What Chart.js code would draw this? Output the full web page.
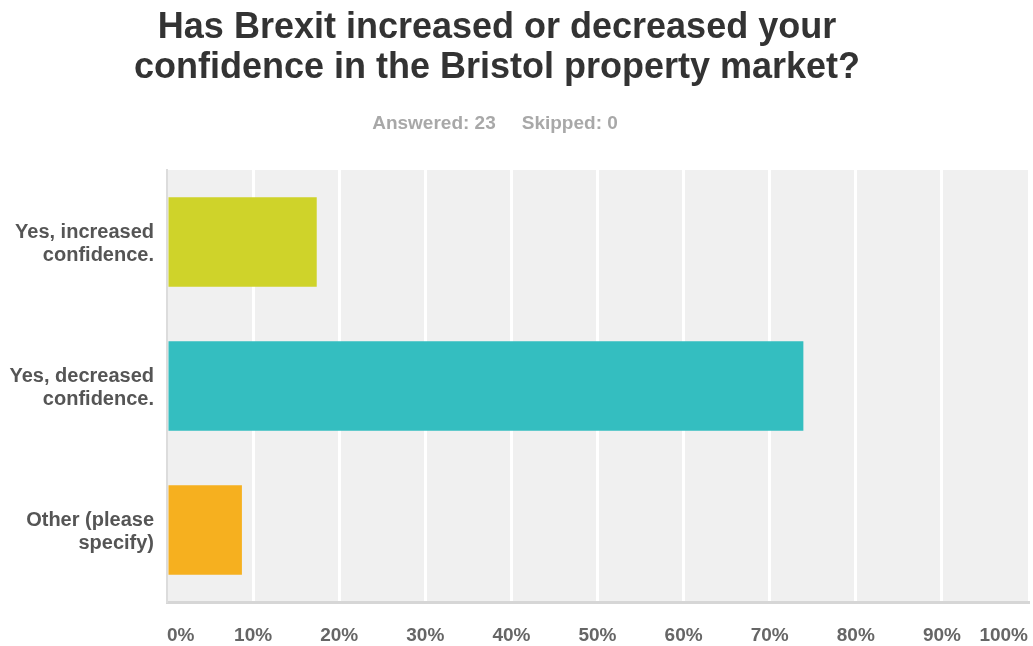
<!DOCTYPE html>
<html>
<head>
<meta charset="utf-8">
<script src="https://cdn.jsdelivr.net/npm/chart.js@4.4.1/dist/chart.umd.min.js"></script>
<style>
  html, body { margin: 0; padding: 0; background: #ffffff; }
  #wrap { width: 1033px; height: 646px; position: relative; }
</style>
</head>
<body>
<div id="wrap"><canvas id="chart" width="1033" height="646"></canvas></div>
<script>
// Survey question, response counts and answer options
const titleLines = ["Has Brexit increased or decreased your", "confidence in the Bristol property market?"];
const answeredText = "Answered: 23";
const skippedText = "Skipped: 0";

const categories = [
  ["Yes, increased", "confidence."],
  ["Yes, decreased", "confidence."],
  ["Other (please", "specify)"]
];
const percentages = [17.39, 73.91, 8.70];
const barColors = ["#cfd32a", "#34bec0", "#f6b01f"];
const tickValues = [0, 10, 20, 30, 40, 50, 60, 70, 80, 90, 100];

const FONT = "'Liberation Sans', Arial, Helvetica, sans-serif";

// Light grey plot background behind the grid
const plotBackground = {
  id: 'plotBackground',
  beforeDraw(chart) {
    const { ctx, chartArea: a } = chart;
    ctx.save();
    ctx.fillStyle = '#f0f0f0';
    ctx.fillRect(a.left, a.top, a.right - a.left, a.bottom - a.top);
    ctx.restore();
  }
};

// Question heading and response summary
const heading = {
  id: 'heading',
  afterDraw(chart) {
    const { ctx } = chart;
    const cx = 497;
    ctx.save();
    ctx.textAlign = 'center';
    ctx.textBaseline = 'alphabetic';
    ctx.fillStyle = '#333333';
    ctx.font = "bold 36px " + FONT;
    ctx.fillText(titleLines[0], cx, 38);
    ctx.fillText(titleLines[1], cx, 78);

    ctx.font = "bold 19px " + FONT;
    ctx.fillStyle = '#a8a8a8';
    ctx.textAlign = 'left';
    const gap = 26;
    const w1 = ctx.measureText(answeredText).width;
    const w2 = ctx.measureText(skippedText).width;
    const start = 495 - (w1 + gap + w2) / 2;
    ctx.fillText(answeredText, start, 129);
    ctx.fillText(skippedText, start + w1 + gap, 129);
    ctx.restore();
  }
};

new Chart(document.getElementById('chart'), {
  type: 'bar',
  data: {
    labels: categories,
    datasets: [{
      data: percentages,
      backgroundColor: barColors,
      borderWidth: 0,
      categoryPercentage: 1.0,
      barPercentage: 0.62
    }]
  },
  options: {
    indexAxis: 'y',
    responsive: false,
    animation: false,
    events: [],
    layout: { padding: { top: 170, right: 5, left: 0, bottom: 0 } },
    plugins: {
      legend: { display: false },
      tooltip: { enabled: false },
      title: { display: false }
    },
    scales: {
      x: {
        min: 0,
        max: 100,
        afterBuildTicks(scale) {
          scale.ticks = tickValues.map(v => ({ value: v }));
        },
        afterFit(scale) {
          scale.height = 44;
          scale.paddingLeft = 0;
          scale.paddingRight = 0;
        },
        grid: {
          color: ctx => (ctx.index === 0 || ctx.index === tickValues.length - 1) ? 'rgba(0,0,0,0)' : '#ffffff',
          lineWidth: 3,
          drawTicks: false
        },
        border: { color: '#d6d6d6', width: 3 },
        ticks: {
          align: 'inner',
          padding: 22,
          color: '#666666',
          font: { family: FONT, size: 19, weight: 'bold' },
          callback: v => v + '%'
        }
      },
      y: {
        afterFit(scale) {
          scale.width = 167;
          scale.paddingTop = 0;
          scale.paddingBottom = 0;
        },
        grid: { display: false, drawTicks: false },
        border: { color: '#dcdcdc', width: 2 },
        ticks: {
          padding: 13,
          labelOffset: 2,
          color: '#555555',
          font: { family: FONT, size: 20, weight: 'bold', lineHeight: '23px' }
        }
      }
    }
  },
  plugins: [plotBackground, heading]
});
</script>
</body>
</html>
